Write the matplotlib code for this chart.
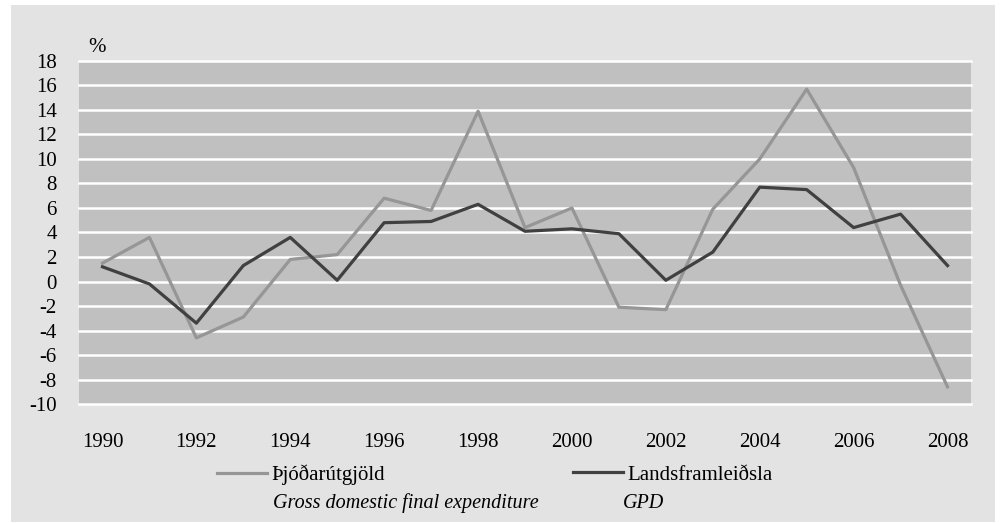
import numpy as np
import matplotlib
matplotlib.use("Agg")
import matplotlib.pyplot as plt
from matplotlib.patches import Rectangle

# data (annual % change)
years = np.arange(1990, 2009)
expenditure = [1.5, 3.6, -4.6, -2.9, 1.8, 2.2, 6.8, 5.8, 13.9, 4.4,
               6.0, -2.1, -2.3, 5.9, 10.0, 15.7, 9.3, -0.3, -8.6]
gdp = [1.2, -0.2, -3.4, 1.3, 3.6, 0.1, 4.8, 4.9, 6.3, 4.1,
       4.3, 3.9, 0.1, 2.4, 7.7, 7.5, 4.4, 5.5, 1.3]
yticks = np.arange(-10, 19, 2)
xticks = np.arange(1990, 2009, 2)

plt.rcParams['font.family'] = ['Liberation Serif', 'DejaVu Serif']
plt.rcParams['axes.unicode_minus'] = False
fs = 15

fig = plt.figure(figsize=(10, 5.23), dpi=100)
fig.patch.set_facecolor('white')
# light grey panel behind everything
fig.patches.append(Rectangle((0.011, 0.002), 0.984, 0.9885, transform=fig.transFigure,
                             facecolor='#e3e3e3', edgecolor='none', zorder=-1))

ax = fig.add_axes([0.079, 0.2275, 0.892, 0.6559])
ax.set_zorder(1)
ax.set_facecolor('#c0c0c0')
line1, = ax.plot(years, expenditure, color='#969696', lw=2.3, zorder=3)
line2, = ax.plot(years, gdp, color='#404040', lw=2.3, zorder=4)

ax.set_xlim(1989.5, 2008.5)
ax.set_ylim(-10, 18)
ax.set_yticks(yticks)
ax.set_xticks(xticks)
for y in yticks:
    ax.axhline(y, color='white', lw=1.8, zorder=2, clip_on=False)
for s in ax.spines.values():
    s.set_visible(False)
ax.tick_params(axis='both', length=0, labelsize=fs)
ax.tick_params(axis='x', pad=21)
ax.tick_params(axis='y', pad=16)

fig.text(0.088, 0.91, '%', fontsize=fs, ha='left', va='center')

# legend: one entry per series, placed under the axis
leg1 = ax.legend([line1], ['Þjóðarútgjöld'], loc='center left',
                 bbox_to_anchor=(0.217, 0.0918), bbox_transform=fig.transFigure,
                 frameon=False, fontsize=fs, handlelength=2.4, handletextpad=0.2,
                 borderpad=0, borderaxespad=0)
ax.add_artist(leg1)
leg2 = ax.legend([line2], ['Landsframleiðsla'], loc='center left',
                 bbox_to_anchor=(0.573, 0.0918), bbox_transform=fig.transFigure,
                 frameon=False, fontsize=fs, handlelength=2.4, handletextpad=0.2,
                 borderpad=0, borderaxespad=0)
fig.text(0.2727, 0.038, 'Gross domestic final expenditure', fontsize=14.5,
         style='italic', ha='left', va='center')
fig.text(0.623, 0.038, 'GPD', fontsize=14.5, style='italic', ha='left', va='center')

fig.savefig('out.png', dpi=100, facecolor=fig.get_facecolor())
